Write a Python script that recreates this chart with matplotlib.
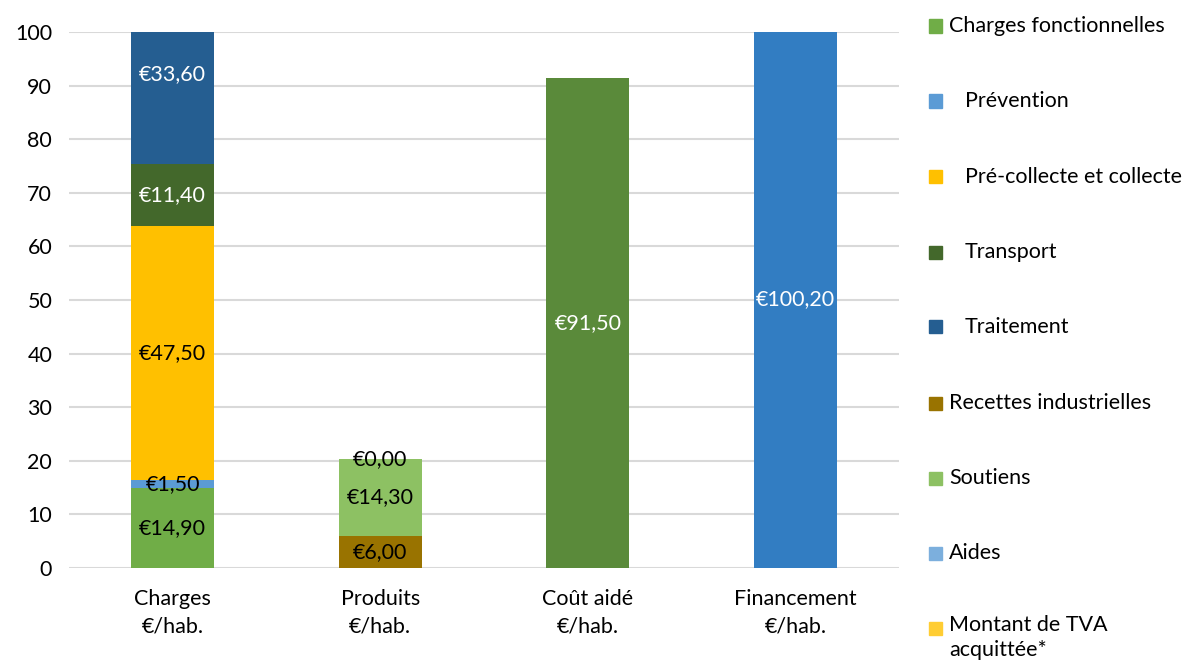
import matplotlib.pyplot as plt
import matplotlib.patches as patches
import numpy as np

plt.rcParams['font.family'] = ['Lato', 'DejaVu Sans']

# Data
categories = ["Charges\n€/hab.", "Produits\n€/hab.", "Coût aidé\n€/hab.", "Financement\n€/hab."]

series_names = ["Charges fonctionnelles", "Prévention", "Pré-collecte et collecte",
                "Transport", "Traitement", "Recettes industrielles", "Soutiens",
                "Aides", "Montant de TVA\nacquittée*", "Coût aidé", "Financement"]
charges_fonct = [14.9, 0, 0, 0]
prevention = [1.5, 0, 0, 0]
precollecte = [47.5, 0, 0, 0]
transport = [11.4, 0, 0, 0]
traitement = [33.6, 0, 0, 0]
recettes = [0, 6.0, 0, 0]
soutiens = [0, 14.3, 0, 0]
aides = [0, 0.0, 0, 0]
tva = [0, 0, 0, 0]
cout_aide = [0, 0, 91.5, 0]
financement = [0, 0, 0, 100.2]

# which (series, category) cells carry a data label
labelled = {0: [0], 1: [0], 2: [0], 3: [0], 4: [0], 5: [1], 6: [1], 7: [1], 9: [2], 10: [3]}

all_series = [charges_fonct, prevention, precollecte, transport, traitement,
              recettes, soutiens, aides, tva, cout_aide, financement]
colors = ['#70AD47', '#5B9BD5', '#FFC000', '#43682B', '#255E91', '#997300',
          '#8DC163', '#7CAFDD', '#FFCD33', '#5A8A3A', '#327DC2']
label_colors = ['black', 'black', 'black', 'white', 'white', 'black',
                'black', 'black', 'black', 'white', 'white']
in_legend = 9
FS = 15.5

fig = plt.figure(figsize=(11.88, 6.69), dpi=100)
ax = fig.add_axes([0.058, 0.151, 0.699, 0.801])

x = np.arange(len(categories))
bottom = np.zeros(len(categories))
for i, vals in enumerate(all_series):
    vals = np.array(vals, dtype=float)
    ax.bar(x, vals, 0.4, bottom=bottom, color=colors[i], zorder=3)
    for j in labelled.get(i, []):
        yc = bottom[j] + vals[j] / 2
        txt = f"€{vals[j]:.2f}".replace('.', ',')
        ax.text(x[j], yc, txt, ha='center', va='center', fontsize=FS,
                color=label_colors[i], zorder=4)
    bottom += vals

ax.set_xlim(-0.5, 3.5)
ax.set_ylim(0, 100)
ax.set_yticks(np.arange(0, 101, 10))
ax.set_xticks(x)
ax.set_xticklabels(categories, fontsize=FS, linespacing=1.5)
ax.tick_params(axis='y', labelsize=FS, length=0, pad=12)
ax.tick_params(axis='x', length=0, pad=15)
ax.yaxis.grid(True, color='#D9D9D9', lw=1.5, zorder=0)
for s in ax.spines.values():
    s.set_visible(False)

# Legend drawn by hand (pixel positions)
W, H = 1188, 669
leg_y = [26, 101, 177, 252, 327, 403, 478, 553, 628]
leg_x = [949, 965, 965, 965, 965, 949, 949, 949, 949]
for k in range(in_legend):
    yy = leg_y[k]
    fig.patches.append(patches.Rectangle((929 / W, 1 - (yy + 6.5) / H), 13 / W, 13 / H,
                                         transform=fig.transFigure, color=colors[k]))
    if '\n' in series_names[k]:
        fig.text(leg_x[k] / W, 1 - (yy - 13) / H, series_names[k], fontsize=FS,
                 va='top', ha='left', linespacing=1.3)
    else:
        fig.text(leg_x[k] / W, 1 - yy / H, series_names[k], fontsize=FS,
                 va='center', ha='left')

fig.savefig("out.png", dpi=100)
